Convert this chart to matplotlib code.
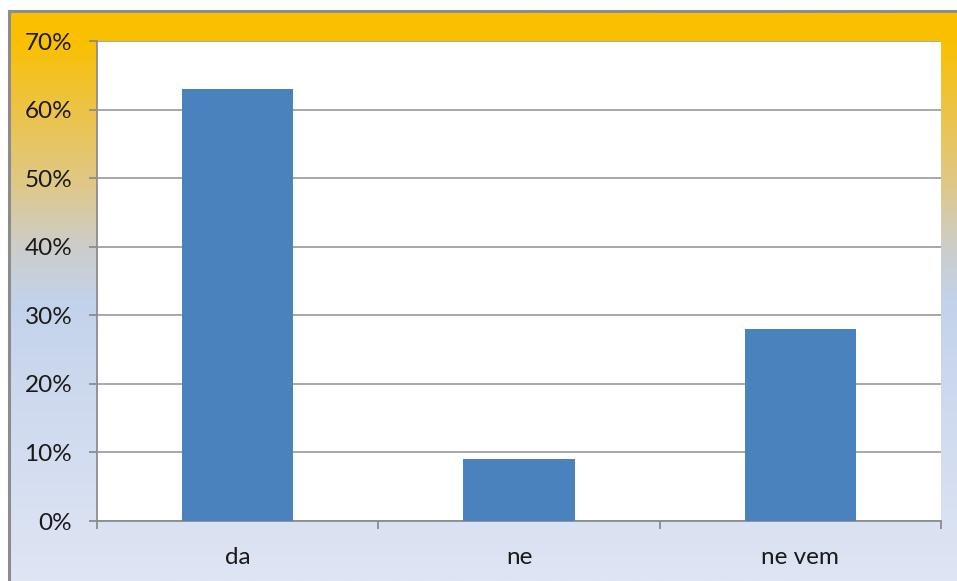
import numpy as np
import matplotlib
matplotlib.use('Agg')
import matplotlib.pyplot as plt
from matplotlib.colors import LinearSegmentedColormap
from matplotlib.ticker import FixedLocator, PercentFormatter

plt.rcParams['font.family'] = ['Lato', 'DejaVu Sans']

# Odgovori in deleži
categories = ['da', 'ne', 'ne vem']
shares = [63, 9, 28]
y_ticks = [0, 10, 20, 30, 40, 50, 60, 70]

W, H = 957, 581
fig = plt.figure(figsize=(W / 100, H / 100), dpi=100)
fig.patch.set_facecolor('white')

# Ozadje grafikona: prelivanje od rumene proti svetlo modri
bg = fig.add_axes([9 / W, 0, 1 - 9 / W, 1 - 11 / H])
stops = [
    (0.00, (250, 192, 0)),
    (0.05, (250, 192, 0)),
    (0.16, (238, 195, 65)),
    (0.31, (222, 200, 140)),
    (0.41, (205, 205, 200)),
    (0.51, (195, 210, 235)),
    (0.75, (210, 220, 240)),
    (1.00, (222, 229, 244)),
]
cmap = LinearSegmentedColormap.from_list(
    'bg', [(p, tuple(c / 255 for c in rgb)) for p, rgb in stops])
grad = np.linspace(0, 1, 400).reshape(-1, 1)
bg.imshow(grad, cmap=cmap, aspect='auto', extent=[0, 1, 1, 0])
bg.set_xlim(0, 1)
bg.set_ylim(1, 0)
bg.set_xticks([])
bg.set_yticks([])
for side in ['right', 'bottom']:
    bg.spines[side].set_visible(False)
for side in ['left', 'top']:
    bg.spines[side].set_color('#8c8c8c')
    bg.spines[side].set_linewidth(2.2)

# Območje izrisa
ax = fig.add_axes([97 / W, 1 - 521 / H, (941 - 97) / W, (521 - 41) / H])
ax.set_facecolor('white')
x = np.arange(len(categories))
ax.bar(x, shares, width=0.395, color='#4a82bd', zorder=3)

ax.set_xlim(-0.5, len(categories) - 0.5)
ax.set_ylim(0, 70)
ax.set_yticks(y_ticks)
ax.yaxis.set_major_formatter(PercentFormatter(decimals=0))
ax.grid(True, axis='y', color='#a0a0a0', linewidth=1.3, zorder=1)

ax.set_xticks(x)
ax.set_xticklabels(categories)
ax.xaxis.set_minor_locator(FixedLocator(np.arange(-0.5, len(categories), 1)))
ax.tick_params(axis='x', which='major', length=0, pad=19, labelsize=17.5, colors='#1a1a1a')
ax.tick_params(axis='x', which='minor', length=5.8, width=1.3, color='#8c8c8c')
ax.tick_params(axis='y', length=5.8, width=1.3, color='#8c8c8c', pad=12, labelsize=17.5,
               labelcolor='#1a1a1a')

for side in ['top', 'right']:
    ax.spines[side].set_visible(False)
for side in ['left', 'bottom']:
    ax.spines[side].set_color('#8c8c8c')
    ax.spines[side].set_linewidth(1.3)

fig.savefig('out.png', dpi=100)
